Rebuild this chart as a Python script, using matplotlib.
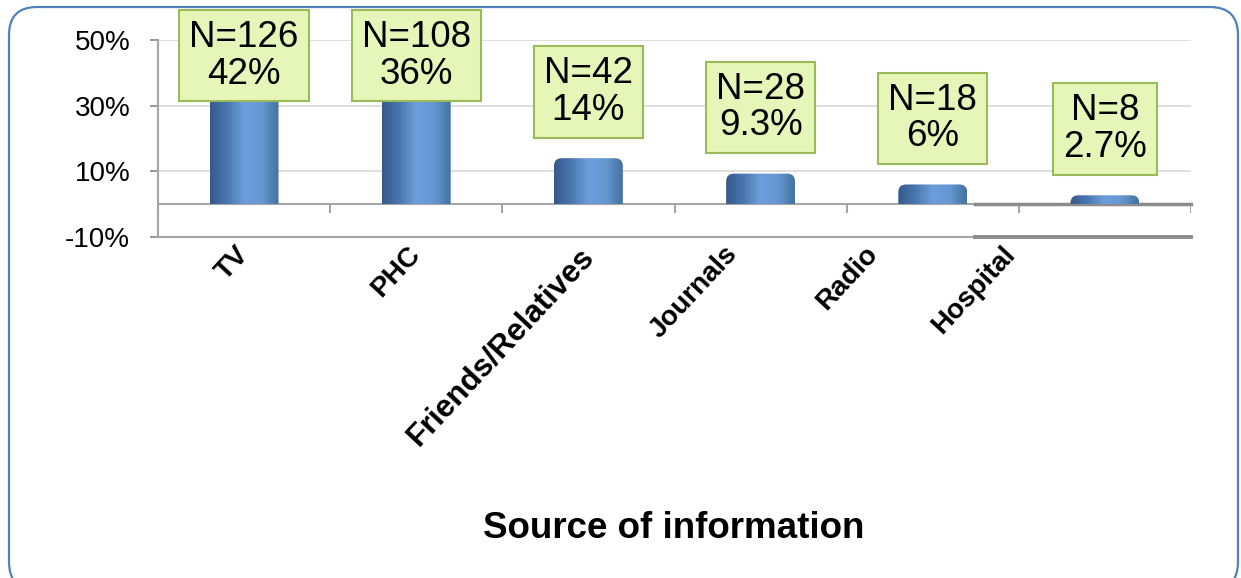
import numpy as np
import matplotlib.pyplot as plt
from matplotlib.patches import FancyBboxPatch
from matplotlib.colors import LinearSegmentedColormap
import matplotlib.transforms as mtrans

plt.rcParams['font.family'] = ['Liberation Sans', 'DejaVu Sans']

sources = ["TV", "PHC", "Friends/Relatives", "Journals", "Radio", "Hospital"]
counts = [126, 108, 42, 28, 18, 8]
percents = [42, 36, 14, 9.3, 6, 2.7]
pct_labels = ["42%", "36%", "14%", "9.3%", "6%", "2.7%"]
y_ticks = [-10, 10, 30, 50]

W, H = 1241, 578
fig = plt.figure(figsize=(W / 100, H / 100), dpi=100)
ax = fig.add_axes([158 / W, 1 - 237 / H, (1191 - 158) / W, (237 - 40) / H])

x = np.arange(len(sources))
bars = ax.bar(x, percents, width=0.4, color="#4f81bd", zorder=2)

# cylinder-ish look: rounded top + horizontal shading
bar_cmap = LinearSegmentedColormap.from_list(
    "bar", ["#36598a", "#4a77b0", "#6c9edb", "#6597d3", "#45719f"])
grad = np.linspace(0, 1, 256).reshape(1, -1)
r_x, r_y = 0.045, 2.4
for b in bars:
    x0, w, h = b.get_x(), b.get_width(), b.get_height()
    shape = FancyBboxPatch((x0, -r_y), w, h + r_y,
                           boxstyle=f"round,pad=0,rounding_size={r_x}",
                           mutation_aspect=r_y / r_x,
                           transform=ax.transData, fc="none", ec="none")
    ax.add_patch(shape)
    im = ax.imshow(grad, extent=[x0, x0 + w, 0, h], aspect="auto",
                   cmap=bar_cmap, zorder=2, interpolation="bicubic")
    im.set_clip_path(shape)
    b.set_visible(False)

ax.set_xlim(-0.5, len(sources) - 0.5)
ax.set_ylim(-10, 50)

# floor of the 3D chart
ax.axhline(0, color="#a6a6a6", lw=1.5, zorder=1)
ax.vlines(np.arange(len(sources) + 1) - 0.5, -2.8, 0, color="#a6a6a6", lw=1.5, zorder=1)
ax.plot([4.245, 5.5], [0, 0], color="#8c8c8c", lw=2.5, zorder=1, clip_on=False)
ax.plot([4.245, 5.5], [-10, -10], color="#8c8c8c", lw=2.8, zorder=3, clip_on=False)

ax.set_yticks(y_ticks)
ax.set_yticklabels([f"{t}%" for t in y_ticks], fontsize=20)
ax.yaxis.grid(True, color="#d9d9d9", lw=1.2, zorder=0)
ax.set_axisbelow(True)
ax.tick_params(axis="y", length=6, width=1.2, color="#868686", pad=14)

ax.set_xticks(x)
ax.set_xticklabels(sources, fontsize=20, fontweight="bold", rotation=47,
                   ha="right", va="top")
ax.tick_params(axis="x", length=0, pad=3)
shift_px = [10, 9, 12, -18, -50, -84]
label_sizes = [20, 20, 22.5, 20, 20, 20]
for lab, s, fs in zip(ax.get_xticklabels(), shift_px, label_sizes):
    lab.set_fontsize(fs)
    lab.set_transform(lab.get_transform() +
                      mtrans.ScaledTranslation(s / 100, 0, fig.dpi_scale_trans))

for side in ["top", "right"]:
    ax.spines[side].set_visible(False)
for side in ["left", "bottom"]:
    ax.spines[side].set_color("#a6a6a6")
    ax.spines[side].set_linewidth(1.5)

# value boxes
for i, (n, p, lbl) in enumerate(zip(counts, percents, pct_labels)):
    ax.annotate(f"N={n}\n{lbl}", xy=(i, min(p, 25)), xytext=(0, 22),
                textcoords="offset points", ha="center", va="bottom",
                fontsize=26.5, linespacing=1.05, zorder=5, annotation_clip=False,
                bbox=dict(boxstyle="square,pad=0.27", fc="#e6f5b8",
                          ec="#9bbb59", lw=1.5))

fig.text(674 / W, 1 - 528 / H, "Source of information", fontsize=26.5,
         fontweight="bold", ha="center", va="center")

border = FancyBboxPatch((9 / 100, -12 / 100), 1229 / 100, 583 / 100,
                        boxstyle="round,pad=0,rounding_size=0.28",
                        transform=fig.dpi_scale_trans, fc="none",
                        ec="#4f81bd", lw=1.6)
fig.patches.append(border)

fig.savefig("out.png", dpi=100)
